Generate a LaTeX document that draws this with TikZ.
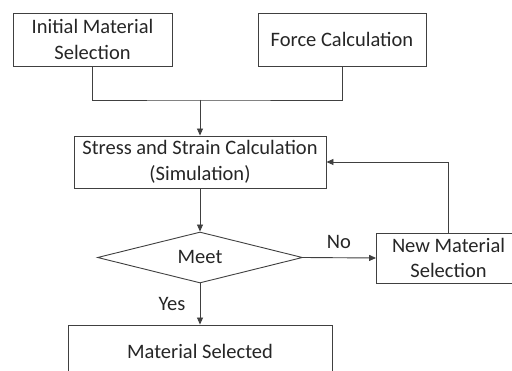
\documentclass[tikz,border=0pt]{standalone}
\usepackage{fontspec}
\setmainfont{Carlito}
\usetikzlibrary{shapes.geometric,arrows.meta}
\definecolor{linec}{HTML}{404040}
\definecolor{textc}{HTML}{262626}
\tikzset{
  box/.style={draw=linec, line width=0.9pt, align=center, inner sep=0pt, text=textc,
    font=\fontsize{20.5}{25.5}\selectfont},
  conn/.style={draw=linec, line width=0.9pt},
  arr/.style={conn, -{Triangle[length=7pt,width=6pt]}},
  lab/.style={text=textc, font=\fontsize{20.5}{25.5}\selectfont, inner sep=0pt},
}
\begin{document}
\begin{tikzpicture}[x=1pt,y=-1pt]
\useasboundingbox (0,0) rectangle (512,371);
\clip (0,0) rectangle (512,371);
\fill[white] (0,0) rectangle (512,371);
\node[box, minimum width=159pt, minimum height=53pt] (b1) at (92.5,39.5) {Initial Material\\Selection};
\node[box, minimum width=168pt, minimum height=53pt] (b2) at (342,39.5) {Force Calculation};
\node[box, minimum width=252pt, minimum height=52pt] (b3) at (200,162) {Stress and Strain Calculation\\(Simulation)};
\node[box, diamond, aspect=4, minimum width=205pt, minimum height=51pt] (d) at (200,257.5) {Meet};
\node[box, minimum width=144pt, minimum height=50pt] (nm) at (448.5,258) {New Material\\Selection};
\node[box, minimum width=264pt, minimum height=53pt] (ms) at (200,351.5) {Material Selected};
\coordinate (j) at (200,100);
\draw[conn] (b1.south) |- (j) -| (b2.south);
\draw[arr] (j) -- (b3.north);
\draw[arr] (b3.south) -- (d.north);
\draw[arr] (d.east) -- (nm.west);
\draw[arr] (nm.north) |- (b3.east);
\draw[arr] (d.south) -- (ms.north);
\node[lab] (no) at (339,242) {No};
\node[lab] (yes) at (172,304) {Yes};
\end{tikzpicture}
\end{document}
